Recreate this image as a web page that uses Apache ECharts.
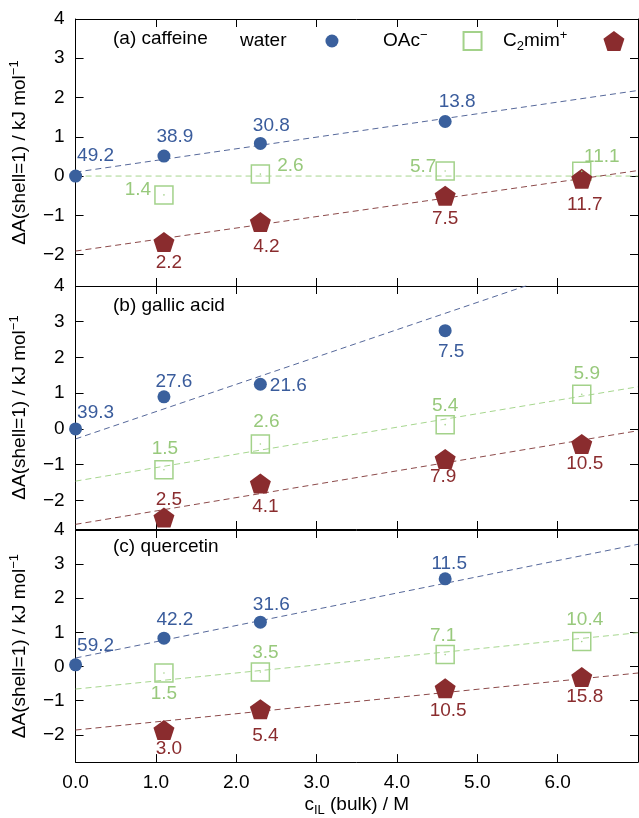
<!DOCTYPE html>
<html><head><meta charset="utf-8">
<script src="https://cdn.jsdelivr.net/npm/echarts@6/dist/echarts.min.js"></script>
<style>html,body{margin:0;padding:0;background:#fff}#c{width:639px;height:818px}</style>
</head><body><div id="c"></div>
<script>
// ---------- data ----------
const xWater = [0, 1.1, 2.3, 4.6];
const xIL = [1.1, 2.3, 4.6, 6.3];
const xFit = [0, 7];
const panelTitles = ['(a) caffeine', '(b) gallic acid', '(c) quercetin'];
const xTickValues = [0, 1, 2, 3, 4, 5, 6];
const yTickValues = [-2, -1, 0, 1, 2, 3, 4];

// (a) caffeine
const caffeineWater = [0.00, 0.51, 0.83, 1.39];
const caffeineWaterLabels = ['49.2', '38.9', '30.8', '13.8'];
const caffeineOAc = [-0.48, 0.05, 0.13, 0.12];
const caffeineOAcLabels = ['1.4', '2.6', '5.7', '11.1'];
const caffeineC2 = [-1.68, -1.17, -0.50, -0.07];
const caffeineC2Labels = ['2.2', '4.2', '7.5', '11.7'];
const caffeineWaterFit = [0.10, 2.18];
const caffeineOAcFit = [0.00, 0.00];
const caffeineC2Fit = [-1.91, 0.14];

// (b) gallic acid
const gallicWater = [0.00, 0.90, 1.25, 2.75];
const gallicWaterLabels = ['39.3', '27.6', '21.6', '7.5'];
const gallicOAc = [-1.14, -0.42, 0.12, 0.97];
const gallicOAcLabels = ['1.5', '2.6', '5.4', '5.9'];
const gallicC2 = [-2.48, -1.53, -0.84, -0.42];
const gallicC2Labels = ['2.5', '4.1', '7.9', '10.5'];
const gallicWaterFit = [-0.28, 5.07];
const gallicOAcFit = [-1.46, 1.18];
const gallicC2Fit = [-2.67, -0.05];

// (c) quercetin
const quercetinWater = [0.05, 0.83, 1.30, 2.57];
const quercetinWaterLabels = ['59.2', '42.2', '31.6', '11.5'];
const quercetinOAc = [-0.19, -0.16, 0.35, 0.73];
const quercetinOAcLabels = ['1.5', '3.5', '7.1', '10.4'];
const quercetinC2 = [-1.86, -1.25, -0.64, -0.31];
const quercetinC2Labels = ['3.0', '5.4', '10.5', '15.8'];
const quercetinWaterFit = [0.25, 3.58];
const quercetinOAcFit = [-0.66, 0.99];
const quercetinC2Fit = [-1.86, -0.19];

// ---------- layout / style ----------
const FONT = '"Liberation Sans", Arial, Helvetica, sans-serif';
const FS = 19;
const BLUE = '#3a609d', GREEN = '#a3d28a', RED = '#8a2c2e';
const BLUE_LINE = '#56689a', GREEN_LINE = '#a6d68e', RED_LINE = '#8c4a4a';
const BLUE_TEXT = '#3a5c9c', GREEN_TEXT = '#98c97c', RED_TEXT = '#8a2c2e';
const PENTAGON = 'path://M0,-1 L0.951,-0.309 L0.588,0.809 L-0.588,0.809 L-0.951,-0.309 Z';
const GRIDS = [
  {left: 71, top: 19, width: 567, height: 267},
  {left: 71, top: 286, width: 567, height: 243},
  {left: 71, top: 530, width: 567, height: 236}
];
const TITLE_TOPS = [29, 296, 537];
// label offsets [dx, dy] from point centre (layout only)
const OFFS = [
  {w: [[20,-20],[11,-19],[11,-18],[12,-20]], o: [[-26,-5],[30,-8],[-22,-4],[20,-15]], c: [[5,21],[6,25],[0,23],[3,26]]},
  {w: [[20,-16],[10,-15],[28,1],[6,21]], o: [[1,-21],[6,-22],[0,-19],[5,-21]], c: [[5,-18],[5,23],[-2,18],[3,20]]},
  {w: [[20,-19],[11,-18],[11,-17],[4,-15]], o: [[0,21],[5,-19],[-2,-19],[3,-22]], c: [[5,19],[5,27],[3,22],[3,20]]}
];

const panels = [
  {w: caffeineWater, wl: caffeineWaterLabels, o: caffeineOAc, ol: caffeineOAcLabels, c: caffeineC2, cl: caffeineC2Labels, wf: caffeineWaterFit, of: caffeineOAcFit, cf: caffeineC2Fit},
  {w: gallicWater, wl: gallicWaterLabels, o: gallicOAc, ol: gallicOAcLabels, c: gallicC2, cl: gallicC2Labels, wf: gallicWaterFit, of: gallicOAcFit, cf: gallicC2Fit},
  {w: quercetinWater, wl: quercetinWaterLabels, o: quercetinOAc, ol: quercetinOAcLabels, c: quercetinC2, cl: quercetinC2Labels, wf: quercetinWaterFit, of: quercetinOAcFit, cf: quercetinC2Fit}
];

const RICH = {
  sup: {fontSize: 13, lineHeight: 12, verticalAlign: 'top', fontFamily: FONT, color: '#000'},
  sub: {fontSize: 13, lineHeight: 12, verticalAlign: 'bottom', fontFamily: FONT, color: '#000'}
};

const xAxes = [], yAxes = [], series = [];
GRIDS.forEach((g, gi) => {
  const line = {show: true, onZero: false, lineStyle: {color: '#000', width: 1}};
  const tickX = {show: true, inside: true, length: 8, customValues: [1,2,3,4,5,6], lineStyle: {color: '#000'}};
  const tickY = {show: true, inside: true, length: 8, customValues: [-2,-1,0,1,2,3], lineStyle: {color: '#000'}};
  xAxes.push({
    gridIndex: gi, type: 'value', min: 0, max: 7, position: 'bottom',
    axisLine: line, axisTick: tickX, splitLine: {show: false},
    axisLabel: {show: gi === 2, customValues: xTickValues, formatter: v => v.toFixed(1),
      margin: 11, fontSize: FS, color: '#000', fontFamily: FONT},
    name: gi === 2 ? 'c{sub|IL} (bulk) / M' : '', nameLocation: 'middle', nameGap: 27,
    nameTextStyle: {fontSize: FS, color: '#000', fontFamily: FONT, lineHeight: 24, rich: RICH}
  });
  xAxes.push({
    gridIndex: gi, type: 'value', min: 0, max: 7, position: 'top',
    axisLine: line, axisTick: tickX, splitLine: {show: false}, axisLabel: {show: false}
  });
  yAxes.push({
    gridIndex: gi, type: 'value', min: -2.8, max: 4, position: 'left',
    axisLine: line, axisTick: tickY, splitLine: {show: false},
    axisLabel: {customValues: yTickValues, formatter: v => String(v).replace('-', '\u2212'),
      margin: 11, fontSize: FS, color: '#000', fontFamily: FONT},
    name: '\u0394A(shell=1) / kJ mol{sup|\u22121}', nameLocation: 'middle', nameRotate: 90, nameGap: 27,
    nameTextStyle: {fontSize: FS, color: '#000', fontFamily: FONT, lineHeight: 24, rich: RICH}
  });
  yAxes.push({
    gridIndex: gi, type: 'value', min: -2.8, max: 4, position: 'right',
    axisLine: line, axisTick: tickY, splitLine: {show: false}, axisLabel: {show: false}
  });

  const P = panels[gi], O = OFFS[gi];
  const xi = gi * 2, yi = gi * 2;
  const fit = (name, ys, color) => ({
    type: 'line', name: name + '_fit', xAxisIndex: xi, yAxisIndex: yi, silent: true,
    data: xFit.map((x, i) => [x, ys[i]]), showSymbol: false, symbol: 'none', z: 1,
    lineStyle: {color: color, width: 1, type: [6, 4]}, clip: true, animation: false
  });
  const pts = (name, xs, ys, labels, offs, sym, size, itemStyle, lcolor) => ({
    type: 'scatter', name: name, xAxisIndex: xi, yAxisIndex: yi, z: 3, clip: false,
    symbol: sym, symbolSize: size, itemStyle: Object.assign({opacity: 1}, itemStyle),
    emphasis: {disabled: true},
    data: xs.map((x, i) => ({name: labels[i], value: [x, ys[i]], label: {offset: offs[i]}})),
    label: {show: true, position: 'inside', formatter: '{b}', color: lcolor, fontSize: FS, fontFamily: FONT}
  });
  series.push(fit('water', P.wf, BLUE_LINE));
  series.push(fit('OAc', P.of, GREEN_LINE));
  series.push(fit('C2mim', P.cf, RED_LINE));
  series.push(pts('water', xWater, P.w, P.wl, O.w, 'circle', 13, {color: BLUE}, BLUE_TEXT));
  series.push(pts('OAc', xIL, P.o, P.ol, O.o, 'rect', 18, {color: 'rgba(255,255,255,0)', borderColor: GREEN, borderWidth: 1.5}, GREEN_TEXT));
  // small centre dot of the open squares
  series.push({
    type: 'scatter', name: 'OAc_dot', xAxisIndex: xi, yAxisIndex: yi, z: 4, silent: true,
    symbol: 'circle', symbolSize: 1.6, itemStyle: {color: GREEN, opacity: 1},
    data: xIL.map((x, i) => [x, P.o[i]])
  });
  series.push(pts('C2mim', xIL, P.c, P.cl, O.c, PENTAGON, [21, 20], {color: RED}, RED_TEXT));
});

const legendBase = {
  orient: 'horizontal', align: 'right', padding: 0, selectedMode: false, top: 29,
  textStyle: {fontSize: FS, color: '#000', fontFamily: FONT, lineHeight: 24, rich: RICH}
};
const option = {
  animation: false,
  backgroundColor: '#fff',
  grid: GRIDS,
  xAxis: xAxes,
  yAxis: yAxes,
  title: panelTitles.map((t, i) => ({
    text: t, left: 113, top: TITLE_TOPS[i], padding: 0,
    textStyle: {fontSize: FS, fontWeight: 'normal', color: '#000', fontFamily: FONT}
  })),
  legend: [
    Object.assign({}, legendBase, {left: 240, data: ['water'], itemWidth: 13, itemHeight: 13,
      textStyle: Object.assign({}, legendBase.textStyle, {padding: [0, 34, 0, 0]})}),
    Object.assign({}, legendBase, {left: 383, data: ['OAc'], itemWidth: 18, itemHeight: 18,
      formatter: () => 'OAc{sup|\u2212}',
      textStyle: Object.assign({}, legendBase.textStyle, {padding: [0, 31, 0, 0]})}),
    Object.assign({}, legendBase, {left: 503, data: ['C2mim'], itemWidth: 21, itemHeight: 20,
      formatter: () => 'C{sub|2}mim{sup|+}',
      textStyle: Object.assign({}, legendBase.textStyle, {padding: [0, 31, 0, 0]})})
  ],
  series: series
};
const chart = echarts.init(document.getElementById('c'), null, {renderer: 'canvas'});
chart.setOption(option);
</script>
</body></html>
